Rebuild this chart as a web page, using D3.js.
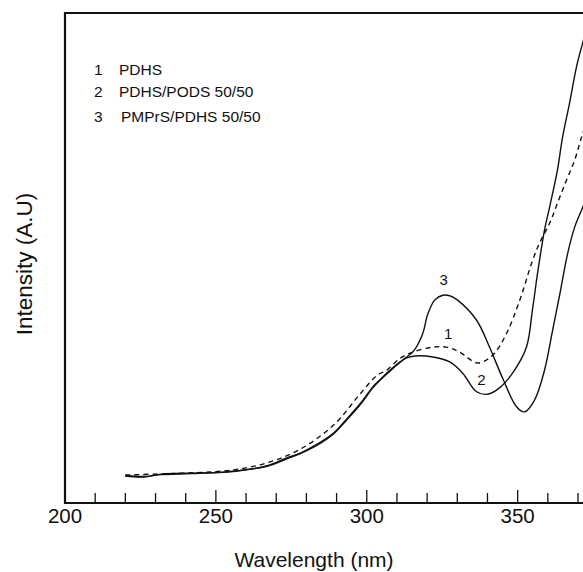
<!DOCTYPE html>
<html>
<head>
<meta charset="utf-8">
<script src="https://cdn.jsdelivr.net/npm/d3@7"></script>
<style>
  body { margin: 0; background: #fff; }
  text { font-family: "Liberation Sans", Arial, sans-serif; fill: #111; }
</style>
</head>
<body>
<svg id="chart" width="583" height="572"></svg>
<script>
// curve 1: PDHS (dashed)
let nm1 = [220, 230, 240, 255, 267, 278, 289, 298, 303.5, 306.6, 311, 315.2, 321.9, 326.5, 330.8, 336.4, 339.7, 342.4, 346.4, 350.7, 355, 357.3, 360.6, 363.2, 366.2, 368.9, 371.2, 373];
let int1 = [5.7, 5.9, 6.1, 6.7, 8.2, 11, 15.9, 22.4, 26.1, 27.1, 29.5, 30.8, 31.8, 31.8, 30.8, 28.6, 29.2, 30.6, 34.7, 41.4, 49.6, 53.1, 57.1, 61.2, 65.9, 70, 74.7, 78];

// curve 2: PDHS/PODS 50/50
let nm2 = [220, 226, 232, 242, 254, 267, 273.5, 278, 283, 289, 293, 298, 302, 304.3, 308.6, 313.2, 316, 321.9, 327.5, 331.8, 336.4, 340.1, 344, 348.3, 352.9, 354.9, 356.6, 358.9, 360.6, 363.2, 364.9, 367.2, 369.5, 371.2, 373];
let int2 = [5.5, 5.3, 5.9, 6.1, 6.3, 7.6, 9.2, 10.2, 11.8, 14.3, 16.9, 20.4, 23.7, 25.1, 27.6, 29.6, 30.0, 29.8, 28.8, 26.5, 22.7, 22.2, 23.5, 26.5, 31.8, 39.4, 46.9, 55.7, 60.4, 68, 74.7, 81.6, 89, 93.1, 97];

// curve 3: PMPrS/PDHS 50/50
let nm3 = [220, 226, 232, 242, 254, 267, 273.5, 278, 283, 289, 293, 298, 302, 304.3, 308.6, 313.2, 315.5, 318.5, 320.2, 322.5, 325.2, 327.5, 330.1, 336.4, 340.7, 345, 349.7, 352.3, 355.6, 358.9, 361.6, 363.9, 366.6, 368.9, 371.2, 373];
let int3 = [5.6, 5.4, 5.8, 6.0, 6.4, 7.5, 9.0, 10.1, 11.6, 14.1, 16.7, 20.2, 23.5, 25.0, 27.4, 29.8, 31, 34.5, 38.5, 41.4, 42.4, 42.3, 41.4, 37.3, 31.8, 25.5, 19.6, 18.6, 21, 27.1, 35.3, 42.4, 51, 56.3, 59.8, 62.5];

let legendNums = ["1", "2", "3"];
let legendNames = ["PDHS", "PDHS/PODS 50/50", "PMPrS/PDHS 50/50"];
let xTicks = d3.range(210, 371, 10);
let xLabels = [200, 250, 300, 350];

var svg = d3.select("#chart");

var x = d3.scaleLinear().domain([200, 370]).range([65, 578]);
var y = d3.scaleLinear().domain([0, 100]).range([503, 13]);

// frame (right side runs off the page)
svg.append("path")
    .attr("d", "M583," + y(100) + "H" + x(200) + "V" + y(0) + "H583")
    .attr("fill", "none")
    .attr("stroke", "#111")
    .attr("stroke-width", 2.2);

// ticks pointing inward
svg.selectAll(".tick")
    .data(xTicks)
    .enter()
    .append("line")
    .attr("x1", function(d) { return x(d); })
    .attr("x2", function(d) { return x(d); })
    .attr("y1", y(0))
    .attr("y2", function(d) { return d % 50 == 0 ? y(0) - 13 : y(0) - 10; })
    .attr("stroke", "#111")
    .attr("stroke-width", 1.3);

svg.selectAll(".xlab")
    .data(xLabels)
    .enter()
    .append("text")
    .attr("x", function(d) { return x(d); })
    .attr("y", 523)
    .attr("text-anchor", "middle")
    .style("font-size", "20.5px")
    .text(function(d) { return d; });

svg.append("text")
    .attr("x", 314)
    .attr("y", 567)
    .attr("text-anchor", "middle")
    .style("font-size", "21px")
    .text("Wavelength (nm)");

svg.append("text")
    .attr("transform", "translate(32,264) rotate(-90)")
    .attr("text-anchor", "middle")
    .style("font-size", "22.5px")
    .text("Intensity (A.U)");

// curves
var line = d3.line()
    .x(function(d) { return x(d[0]); })
    .y(function(d) { return y(d[1]); })
    .curve(d3.curveCatmullRom.alpha(0.5));

var series = [
    { pts: d3.zip(nm1, int1), dash: "5,4" },
    { pts: d3.zip(nm2, int2), dash: null },
    { pts: d3.zip(nm3, int3), dash: null }
];

svg.selectAll(".curve")
    .data(series)
    .enter()
    .append("path")
    .attr("d", function(d) { return line(d.pts); })
    .attr("fill", "none")
    .attr("stroke", "#111")
    .attr("stroke-width", 1.4)
    .attr("stroke-dasharray", function(d) { return d.dash; });

// curve number labels
var curveLabels = [["3", 325.5, 44.5], ["1", 327, 33.5], ["2", 338, 24]];
svg.selectAll(".clab")
    .data(curveLabels)
    .enter()
    .append("text")
    .attr("x", function(d) { return x(d[1]); })
    .attr("y", function(d) { return y(d[2]); })
    .attr("text-anchor", "middle")
    .style("font-size", "15px")
    .text(function(d) { return d[0]; });

// legend
var legendY = [75, 97, 122];
legendNums.forEach(function(n, i) {
    svg.append("text")
        .attr("x", 94)
        .attr("y", legendY[i])
        .style("font-size", "15.5px")
        .text(n);
    svg.append("text")
        .attr("x", i == 2 ? 121 : 119)
        .attr("y", legendY[i])
        .style("font-size", "15.5px")
        .text(legendNames[i]);
});
</script>
</body>
</html>
